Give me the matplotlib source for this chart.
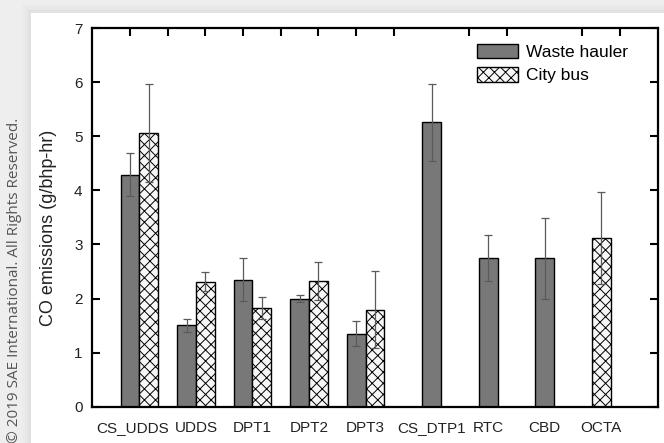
import matplotlib
matplotlib.use("Agg")
import matplotlib.pyplot as plt
from matplotlib.patches import Rectangle, Patch
from matplotlib.ticker import FixedLocator
import numpy as np

plt.rcParams['hatch.color'] = '#707070'
plt.rcParams['hatch.linewidth'] = 0.7

categories = ['CS_UDDS', 'UDDS', 'DPT1', 'DPT2', 'DPT3', 'CS_DTP1', 'RTC', 'CBD', 'OCTA']
# nan = no bar for that vehicle
hauler_mean = [4.29, 1.51, 2.35, 2.00, 1.35, 5.26, 2.75, 2.74, np.nan]
hauler_err = [0.40, 0.12, 0.40, 0.07, 0.23, 0.71, 0.43, 0.75, np.nan]
bus_mean = [5.06, 2.31, 1.83, 2.32, 1.79, np.nan, np.nan, np.nan, 3.12]
bus_err = [0.90, 0.18, 0.20, 0.35, 0.71, np.nan, np.nan, np.nan, 0.85]

W, H = 664, 443
fig = plt.figure(figsize=(W / 100, H / 100), dpi=100)
fig.patch.set_facecolor('#eeeeee')

# white page with a soft shadow
for i, a in enumerate([0.05, 0.08, 0.12]):
    d = (3 - i) * 3
    fig.add_artist(Rectangle(((31 - d) / W, 0), 1, (430 + d) / H, transform=fig.transFigure,
                             facecolor='#bbbbbb', alpha=a, edgecolor='none', zorder=0))
fig.add_artist(Rectangle((31 / W, 0), 1, 430 / H, transform=fig.transFigure,
                         facecolor='white', edgecolor='none', zorder=0))

ax = fig.add_axes([92.3 / W, 1 - 406.7 / H, (657.7 - 92.3) / W, (406.7 - 28) / H])
ax.set_facecolor('none')

bw = 0.5
groups = 1.25 + 1.5 * np.arange(len(categories))
wh_x, cb_x, lab_x = [], [], []
for i, g in enumerate(groups):
    paired = not (np.isnan(hauler_mean[i]) or np.isnan(bus_mean[i]))
    if paired:
        wh_x.append(g - bw / 2)
        cb_x.append(g + bw / 2)
        lab_x.append(g)
    else:
        wh_x.append(g + bw / 2)
        cb_x.append(g + bw / 2)
        lab_x.append(g + bw / 2)
lab_x[0] -= 0.17

err_kw = dict(ecolor='#5a5a5a', elinewidth=0.9, capsize=2.8, capthick=0.9)
ax.bar(wh_x, hauler_mean, width=bw, color='#787878', edgecolor='black', linewidth=1.0,
       yerr=hauler_err, error_kw=err_kw, zorder=2)
ax.bar(cb_x, bus_mean, width=bw, color='#f7f7f7', edgecolor='black', linewidth=1.0,
       hatch='xxx', yerr=bus_err, error_kw=err_kw, zorder=2)

ax.set_xlim(0, 15)
ax.set_ylim(0, 7)
ax.set_yticks(range(0, 8))
ax.set_xticks(lab_x)
ax.set_xticklabels(categories, fontsize=11, family='Liberation Sans', color='#222222')
ax.xaxis.set_minor_locator(FixedLocator(range(1, 15)))
ax.tick_params(axis='x', which='major', length=0, pad=10)
ax.tick_params(axis='x', which='minor', bottom=False, top=True, direction='in',
               length=6, width=1.5)
ax.tick_params(axis='y', left=True, right=True, direction='in', length=6, width=1.5,
               labelsize=11, pad=7, labelcolor='#222222')
for lab in ax.get_yticklabels():
    lab.set_family('Liberation Sans')
for s in ax.spines.values():
    s.set_linewidth(1.6)

ax.set_ylabel('CO emissions (g/bhp-hr)', fontsize=13, family='Liberation Sans', color='#222222')
ax.yaxis.set_label_coords((57 - 92.3) / (657.7 - 92.3), 0.473)

handles = [Patch(facecolor='#787878', edgecolor='black', linewidth=1.0),
           Patch(facecolor='#f7f7f7', edgecolor='black', linewidth=1.0, hatch='xxx')]
ax.legend(handles, ['Waste hauler', 'City bus'], loc='upper left',
          bbox_to_anchor=((476.7 - 92.3) / (657.7 - 92.3), 1 - (43.5 - 28) / (406.7 - 28)),
          frameon=False, borderpad=0, borderaxespad=0, handlelength=2.4, handleheight=0.95,
          handletextpad=0.45, labelspacing=0.4,
          prop={'family': 'Liberation Sans', 'size': 12.5})

fig.text(15 / W, 1 - 118 / H, '\u00a9 2019 SAE International. All Rights Reserved.',
         rotation=90, ha='center', va='top', fontsize=11, family='Open Sans',
         color='#555555')

fig.savefig('out.png', dpi=100, facecolor=fig.get_facecolor())
